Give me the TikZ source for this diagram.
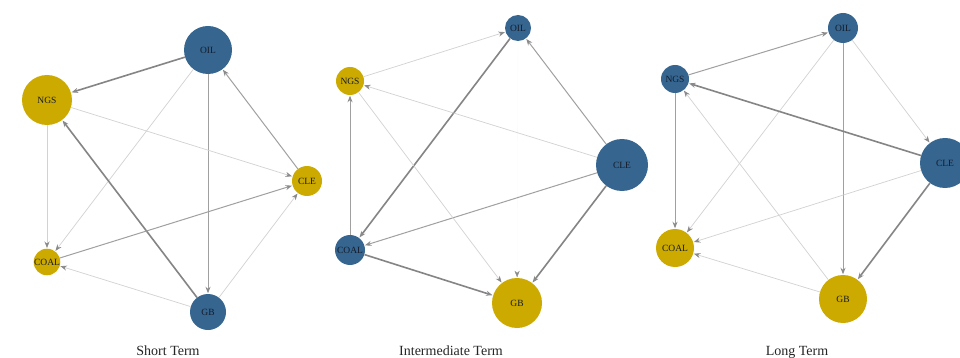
\documentclass[tikz,border=0pt]{standalone}
\usepackage{fontspec}
\setmainfont{Liberation Serif}
\usetikzlibrary{arrows.meta}
\definecolor{nblue}{HTML}{36668F}
\definecolor{nyellow}{HTML}{CCAA00}
\definecolor{ntext}{HTML}{141C2C}
\definecolor{ethick}{HTML}{858585}
\definecolor{emed}{HTML}{A0A0A0}
\definecolor{elight}{HTML}{D2D2D2}
\definecolor{ehead}{HTML}{8A8A8A}
\tikzset{
  nd/.style={circle, inner sep=0pt, text=ntext, font=\fontsize{9.5}{10}\selectfont, minimum size=#1},
  bl/.style={fill=nblue},
  yl/.style={fill=nyellow},
  edgebase/.style={-{Stealth[length=6.5pt,width=5pt,color=ehead]}, shorten >=0.5pt},
  ethk/.style={edgebase, draw=ethick, line width=1.6pt},
  emd/.style={edgebase, draw=emed, line width=1pt},
  elt/.style={edgebase, draw=elight, line width=0.7pt},
  enone/.style={edgebase, draw=white!98!black, line width=0.3pt},
  captxt/.style={font=\fontsize{14}{16}\selectfont, anchor=base, text=black!85}
}
\begin{document}
\begin{tikzpicture}[x=1pt,y=-1pt]
\fill[white] (0,0) rectangle (960,358);
\useasboundingbox (0,0) rectangle (960,358);
% ---------- Short Term ----------
\node[nd=48pt,bl] (a1) at (208,50) {OIL};
\node[nd=50pt,yl] (b1) at (47,100) {NGS};
\node[nd=30pt,yl] (c1) at (307,181) {CLE};
\node[nd=26pt,yl] (d1) at (47,262) {COAL};
\node[nd=36pt,bl] (e1) at (208,312) {GB};
\draw[ethk] (a1) -- (b1);
\draw[emd] (a1) -- (e1);
\draw[elt] (a1) -- (d1);
\draw[emd] (c1) -- (a1);
\draw[elt] (b1) -- (c1);
\draw[elt] (b1) -- (d1);
\draw[ethk] (e1) -- (b1);
\draw[emd] (d1) -- (c1);
\draw[elt] (e1) -- (c1);
\draw[elt] (e1) -- (d1);
\node[captxt] (t1) at (168,355) {Short Term};
% ---------- Intermediate Term ----------
\node[nd=26pt,bl] (a2) at (518,28) {OIL};
\node[nd=28pt,yl] (b2) at (350,81) {NGS};
\node[nd=52pt,bl] (c2) at (622,165) {CLE};
\node[nd=30pt,bl] (d2) at (350,250) {COAL};
\node[nd=50pt,yl] (e2) at (517,303) {GB};
\draw[enone] (a2) -- (e2);
\draw[elt] (b2) -- (a2);
\draw[ethk] (a2) -- (d2);
\draw[emd] (c2) -- (a2);
\draw[elt] (c2) -- (b2);
\draw[emd] (c2) -- (d2);
\draw[ethk] (c2) -- (e2);
\draw[emd] (d2) -- (b2);
\draw[ethk] (d2) -- (e2);
\draw[elt] (b2) -- (e2);
\node[captxt] (t2) at (451,355) {Intermediate Term};
% ---------- Long Term ----------
\node[nd=30pt,bl] (a3) at (843,28) {OIL};
\node[nd=28pt,bl] (b3) at (675,79) {NGS};
\node[nd=50pt,bl] (c3) at (945,163) {CLE};
\node[nd=38pt,yl] (d3) at (675,248) {COAL};
\node[nd=48pt,yl] (e3) at (843,299) {GB};
\draw[emd] (b3) -- (a3);
\draw[emd] (a3) -- (e3);
\draw[elt] (a3) -- (d3);
\draw[elt] (a3) -- (c3);
\draw[ethk] (c3) -- (b3);
\draw[elt] (c3) -- (d3);
\draw[ethk] (c3) -- (e3);
\draw[emd] (b3) -- (d3);
\draw[elt] (e3) -- (b3);
\draw[elt] (e3) -- (d3);
\node[captxt] (t3) at (797,355) {Long Term};
\end{tikzpicture}
\end{document}
